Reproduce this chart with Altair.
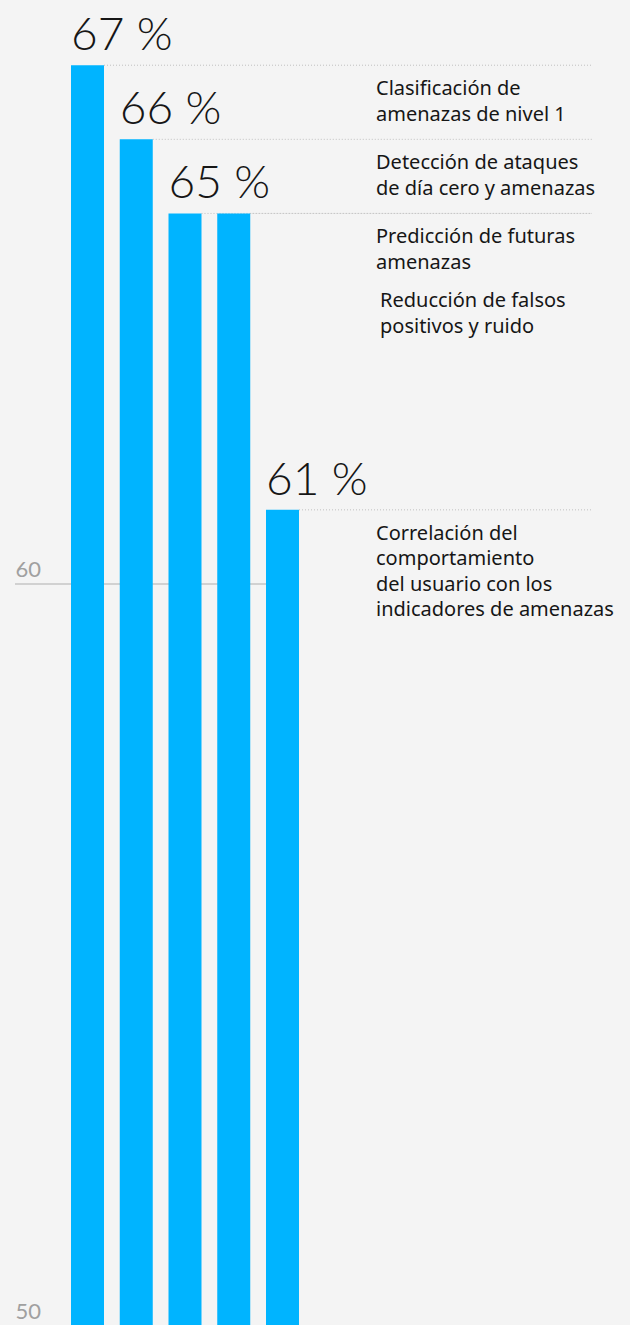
import altair as alt
import pandas as pd

categories = [
    "Clasificación de amenazas de nivel 1",
    "Detección de ataques de día cero y amenazas",
    "Predicción de futuras amenazas",
    "Reducción de falsos positivos y ruido",
    "Correlación del comportamiento del usuario con los indicadores de amenazas",
]
values = [67, 66, 65, 65, 61]
label_lines = [
    ["Clasificación de", "amenazas de nivel 1"],
    ["Detección de ataques", "de día cero y amenazas"],
    ["Predicción de futuras", "amenazas"],
    ["Reducción de falsos", "positivos y ruido"],
    ["Correlación del", "comportamiento", "del usuario con los", "indicadores de amenazas"],
]
y_ticks = [50, 60]
grid_values = [60]

# first item of each equal-value group gets the value label
first_in_group = [i == 0 or values[i] != values[i - 1] for i in range(len(values))]

df = pd.DataFrame({
    "cat": categories,
    "value": values,
    "lines": label_lines,
    "pct": [f"{v} %" for v in values],
    "first": first_in_group,
})

BLUE = "#00b4ff"
BG = "#f4f4f4"
FONT = "Lato"
LABEL_FONT = "Noto Sans"

x_scale = alt.Scale(range=[71, 299], paddingInner=0.323, paddingOuter=0)
y_scale = alt.Scale(domain=[50, 67.88], nice=False, zero=False)
y_axis = alt.Axis(values=y_ticks, grid=False, domain=False, ticks=False,
                  labelAlign="left", labelPadding=-15, labelBaseline="alphabetic",
                  labelOffset=-7, labelFontSize=22, labelColor="#a0a0a0",
                  labelFont=FONT, labelFontWeight=400, title=None)


def xq(pos=None):
    kw = {}
    if pos is not None:
        kw["bandPosition"] = pos
    return alt.X("cat:N", sort=categories, scale=x_scale, axis=None, **kw)


def yq(field="value:Q"):
    return alt.Y(field, scale=y_scale, axis=y_axis)


base = alt.Chart(df)

grid = alt.Chart(pd.DataFrame({"value": grid_values})).mark_rule(
    color="#c6c6c6", strokeWidth=1.5
).encode(
    y=yq(),
    x=alt.value(15), x2=alt.value(282),
)

leaders = base.mark_rule(color="#c0c0c0", strokeWidth=1, strokeDash=[1, 2]).encode(
    x=xq(1),
    x2=alt.value(592),
    y=yq(),
)

bars = base.mark_bar(color=BLUE).encode(
    x=xq(),
    y=yq(),
    y2=alt.datum(50),
)

pct = base.transform_filter("datum.first").mark_text(
    align="left", baseline="alphabetic", dy=-15, fontSize=46, font=FONT,
    fontWeight=300, color="#161616"
).encode(
    x=xq(0),
    y=yq(),
    text="pct:N",
)

lab1 = base.transform_filter("datum.first").mark_text(
    align="left", baseline="top", dy=14, fontSize=20, font=LABEL_FONT,
    lineHeight=25.5, color="#161616"
).encode(
    x=alt.value(376),
    y=yq(),
    text="lines",
)

lab2 = base.transform_filter("!datum.first").mark_text(
    align="left", baseline="top", dy=78, fontSize=20, font=LABEL_FONT,
    lineHeight=25.5, color="#161616"
).encode(
    x=alt.value(380),
    y=yq(),
    text="lines",
)

chart = alt.layer(grid, leaders, bars, pct, lab1, lab2).properties(
    width=630, height=1325, background=BG,
    autosize=alt.AutoSizeParams(type="none"),
    padding=0,
).configure_view(stroke=None)

chart.save("out.html", embed_options={"renderer": "svg", "actions": False})
